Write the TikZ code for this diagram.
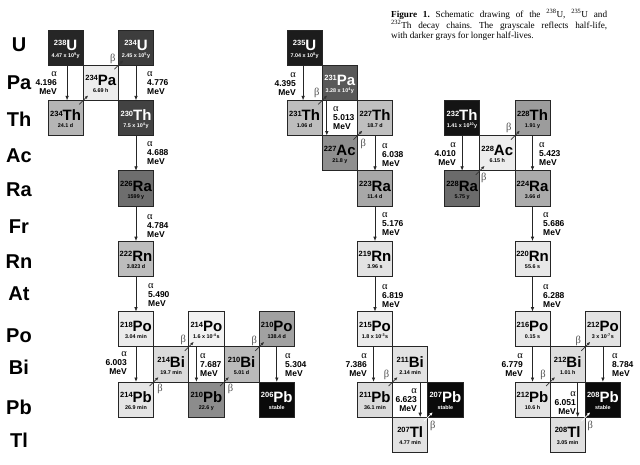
\documentclass[tikz,border=0pt]{standalone}
\usepackage{fontspec}
\setmainfont{Liberation Serif}
\setsansfont{Liberation Sans}
\usetikzlibrary{arrows.meta}
\newcommand\isob[8]{%
  \node[isobox, fill=#4] (#1) at ({#2+17.6},{30+#3*35.2+17.6}) {};
  \node[symtxt, text=#5] (#1s) at ([yshift=-2.6pt]#1.center) {\raisebox{4.6pt}{\fontsize{7.5}{7.5}\selectfont #6}#7};
  \node[hltxt, text=#5] (#1h) at ([yshift=-9.6pt]#1.center) {#8};
}
\newcommand\alp{{\rmfamily\mdseries\fontsize{10.5}{9}\selectfont α}}
\newcommand\sps[1]{\textsuperscript{#1}}
\begin{document}
\begin{tikzpicture}[x=1pt,y=-1pt,
  isobox/.style={draw=black!85, line width=0.7pt, minimum width=35.2pt, minimum height=35.2pt, inner sep=0pt, outer sep=0pt},
  symtxt/.style={font=\sffamily\bfseries\fontsize{15}{15}\selectfont, inner sep=0pt, anchor=base},
  hltxt/.style={font=\sffamily\bfseries\fontsize{5.4}{5.4}\selectfont, inner sep=0pt, anchor=base},
  rowlab/.style={font=\sffamily\bfseries\fontsize{20}{20}\selectfont, inner sep=0pt},
  aarr/.style={draw=black!85, line width=0.8pt, -{Latex[length=4.5pt,width=3.6pt]}},
  barr/.style={draw=black!80, line width=0.7pt, -{Latex[length=3.5pt,width=3pt]}},
  warr/.style={barr, draw=white, fill=white},
  elab/.style={font=\sffamily\bfseries\fontsize{8.5}{9}\selectfont, inner sep=0pt},
  elabL/.style={elab, anchor=east, align=right},
  elabR/.style={elab, anchor=west, align=left},
  betal/.style={font=\rmfamily\fontsize{10.5}{10}\selectfont, text=black!70, inner sep=0pt},
]
\useasboundingbox[fill=white] (0,0) rectangle (640,464);

% row labels
\foreach \t/\y [count=\i] in {U/45,Pa/83,Th/119,Ac/156,Ra/190,Fr/227,Rn/262,At/294,Po/336,Bi/367,Pb/407,Tl/440}
  \node[rowlab] (row\i) at (19,\y) {\t};

% caption
\node[anchor=north west, inner sep=0pt, text width=216pt, align=justify,
      font=\rmfamily\fontsize{9.2}{10.7}\selectfont\frenchspacing] (cap) at (391,9)
  {\textbf{Figure 1.} Schematic drawing of the \sps{238}U, \sps{235}U and\linebreak
   \sps{232}Th decay chains. The grayscale reflects half-life,\linebreak
   with darker grays for longer half-lives.};

% ---- 238U chain
\isob{U238}{48+0*35.2}{0}{black!85}{white}{238}{U}{4.47 x 10\sps{9}y}
\isob{Pa234}{48+1*35.2}{1}{black!7}{black}{234}{Pa}{6.69 h}
\isob{Th234}{48+0*35.2}{2}{black!29}{black}{234}{Th}{24.1 d}
\isob{U234}{48+2*35.2}{0}{black!76}{white}{234}{U}{2.45 x 10\sps{5}y}
\isob{Th230}{48+2*35.2}{2}{black!74}{white}{230}{Th}{7.5 x 10\sps{4}y}
\isob{Ra226}{48+2*35.2}{4}{black!57}{black}{226}{Ra}{1599 y}
\isob{Rn222}{48+2*35.2}{6}{black!26}{black}{222}{Rn}{3.823 d}
\isob{Po218}{48+2*35.2}{8}{black!8}{black}{218}{Po}{3.04 min}
\isob{Pb214}{48+2*35.2}{10}{black!10}{black}{214}{Pb}{26.9 min}
\isob{Bi214}{48+3*35.2}{9}{black!14}{black}{214}{Bi}{19.7 min}
\isob{Po214}{48+4*35.2}{8}{black!5}{black}{214}{Po}{1.6 x 10\sps{-4}s}
\isob{Pb210}{48+4*35.2}{10}{black!45}{black}{210}{Pb}{22.6 y}
\isob{Bi210}{48+5*35.2}{9}{black!27}{black}{210}{Bi}{5.01 d}
\isob{Po210}{48+6*35.2}{8}{black!37}{black}{210}{Po}{138.4 d}
\isob{Pb206}{48+6*35.2}{10}{black!96}{white}{206}{Pb}{stable}

\draw[aarr] ([xshift=1.5pt]U238.south) -- ([xshift=1.5pt]Th234.north);
\draw[aarr] (U234.south) -- (Th230.north);
\draw[aarr] (Th230.south) -- (Ra226.north);
\draw[aarr] (Ra226.south) -- (Rn222.north);
\draw[aarr] (Rn222.south) -- (Po218.north);
\draw[aarr] (Po218.south) -- (Pb214.north);
\draw[aarr] ([xshift=-10pt]Po214.south) -- ([xshift=-10pt]Pb210.north);
\draw[aarr] (Po210.south) -- (Pb206.north);

\draw[barr] ([shift={(-4pt,-4pt)}]Th234.north east) -- ([shift={(5pt,5pt)}]Pa234.south west);
\draw[barr] ([shift={(-4pt,-4pt)}]Pa234.north east) -- ([shift={(5pt,5pt)}]U234.south west);
\draw[barr] ([shift={(-4pt,-4pt)}]Pb214.north east) -- ([shift={(5pt,5pt)}]Bi214.south west);
\draw[barr] ([shift={(-4pt,-4pt)}]Bi214.north east) -- ([shift={(5pt,5pt)}]Po214.south west);
\draw[barr] ([shift={(-4pt,-4pt)}]Pb210.north east) -- ([shift={(5pt,5pt)}]Bi210.south west);
\draw[barr] ([shift={(-4pt,-4pt)}]Bi210.north east) -- ([shift={(5pt,5pt)}]Po210.south west);

\node[betal] (bU234) at ([shift={(-5.5pt,6.5pt)}]U234.south west) {β};
\node[betal] (bBi214) at ([shift={(6.5pt,-6.5pt)}]Bi214.south west) {β};
\node[betal] (bPo214) at ([shift={(-5.5pt,6.5pt)}]Po214.south west) {β};
\node[betal] (bBi210) at ([shift={(6.5pt,-6.5pt)}]Bi210.south west) {β};
\node[betal] (bPo210) at ([shift={(-5pt,6pt)}]Po210.south west) {β};

\node[elabL] (e1) at (57,83) {\alp\\4.196\\MeV};
\node[elabR] (e2) at (147,83) {\alp\\4.776\\MeV};
\node[elabR] (e3) at (147,153) {\alp\\4.688\\MeV};
\node[elabR] (e4) at (147,226) {\alp\\4.784\\MeV};
\node[elabR] (e5) at (148,295) {\alp\\5.490\\MeV};
\node[elabL] (e6) at (127,363) {\alp\\6.003\\MeV};
\node[elabR] (e7) at (200,365) {\alp\\7.687\\MeV};
\node[elabR] (e8) at (285,365) {\alp\\5.304\\MeV};

% ---- 235U chain
\isob{U235}{287+0*35.2}{0}{black!89}{white}{235}{U}{7.04 x 10\sps{8}y}
\isob{Pa231}{287+1*35.2}{1}{black!65}{white}{231}{Pa}{3.28 x 10\sps{4}y}
\isob{Th231}{287+0*35.2}{2}{black!26}{black}{231}{Th}{1.06 d}
\isob{Th227}{287+2*35.2}{2}{black!25}{black}{227}{Th}{18.7 d}
\isob{Ac227}{287+1*35.2}{3}{black!44}{black}{227}{Ac}{21.8 y}
\isob{Ra223}{287+2*35.2}{4}{black!34}{black}{223}{Ra}{11.4 d}
\isob{Rn219}{287+2*35.2}{6}{black!11}{black}{219}{Rn}{3.96 s}
\isob{Po215}{287+2*35.2}{8}{black!8}{black}{215}{Po}{1.8 x 10\sps{-3}s}
\isob{Bi211}{287+3*35.2}{9}{black!11}{black}{211}{Bi}{2.14 min}
\isob{Pb211}{287+2*35.2}{10}{black!14}{black}{211}{Pb}{36.1 min}
\isob{Pb207}{287+4*35.2}{10}{black!96}{white}{207}{Pb}{stable}
\isob{Tl207}{287+3*35.2}{11}{black!11}{black}{207}{Tl}{4.77 min}

\draw[aarr] ([xshift=-1.5pt]U235.south) -- ([xshift=-1.5pt]Th231.north);
\draw[aarr] ([xshift=-13pt]Pa231.south) -- ([xshift=-13pt]Ac227.north);
\draw[aarr] (Th227.south) -- (Ra223.north);
\draw[aarr] (Ra223.south) -- (Rn219.north);
\draw[aarr] (Rn219.south) -- (Po215.north);
\draw[aarr] ([xshift=-1.5pt]Po215.south) -- ([xshift=-1.5pt]Pb211.north);
\draw[aarr] ([xshift=10pt]Bi211.south) -- ([xshift=10pt]Tl207.north);

\draw[barr] ([shift={(-4pt,-4pt)}]Th231.north east) -- ([shift={(5pt,5pt)}]Pa231.south west);
\draw[barr] ([shift={(-4pt,-4pt)}]Ac227.north east) -- ([shift={(5pt,5pt)}]Th227.south west);
\draw[barr] ([shift={(-4pt,-4pt)}]Pb211.north east) -- ([shift={(5pt,5pt)}]Bi211.south west);
\draw[warr] ([shift={(-4pt,-4pt)}]Tl207.north east) -- ([shift={(5pt,5pt)}]Pb207.south west);

\node[betal] (bPa231) at ([shift={(-5.5pt,7pt)}]Pa231.south west) {β};
\node[betal] (bTh227) at ([shift={(6pt,-8pt)}]Th227.south west) {β};
\node[betal] (bBi211) at ([shift={(-6pt,7pt)}]Bi211.south west) {β};
\node[betal] (bPb207) at ([shift={(5pt,-9pt)}]Pb207.south west) {β};

\node[elabL] (e9) at (296,84) {\alp\\4.395\\MeV};
\node[elabR] (e10) at (333,118) {\alp\\5.013\\MeV};
\node[elabR] (e11) at (382,155) {\alp\\6.038\\MeV};
\node[elabR] (e12) at (382,224) {\alp\\5.176\\MeV};
\node[elabR] (e13) at (382,296) {\alp\\6.819\\MeV};
\node[elabL] (e14) at (367,365) {\alp\\7.386\\MeV};
\node[elabL] (e15) at (417,400) {\alp\\6.623\\MeV};

% ---- 232Th chain
\isob{Th232}{444.5+0*35.2}{2}{black!92}{white}{232}{Th}{1.41 x 10\sps{10}y}
\isob{Ac228}{444.5+1*35.2}{3}{black!7}{black}{228}{Ac}{6.15 h}
\isob{Th228}{444.5+2*35.2}{2}{black!39}{black}{228}{Th}{1.91 y}
\isob{Ra228}{444.5+0*35.2}{4}{black!58}{black}{228}{Ra}{5.75 y}
\isob{Ra224}{444.5+2*35.2}{4}{black!33}{black}{224}{Ra}{3.66 d}
\isob{Rn220}{444.5+2*35.2}{6}{black!9}{black}{220}{Rn}{55.6 s}
\isob{Po216}{444.5+2*35.2}{8}{black!9}{black}{216}{Po}{0.15 s}
\isob{Bi212}{444.5+3*35.2}{9}{black!13}{black}{212}{Bi}{1.01 h}
\isob{Po212}{444.5+4*35.2}{8}{black!11}{black}{212}{Po}{3 x 10\sps{-7}s}
\isob{Pb212}{444.5+2*35.2}{10}{black!11}{black}{212}{Pb}{10.6 h}
\isob{Pb208}{444.5+4*35.2}{10}{black!96}{white}{208}{Pb}{stable}
\isob{Tl208}{444.5+3*35.2}{11}{black!12}{black}{208}{Tl}{3.05 min}

\draw[aarr] (Th232.south) -- (Ra228.north);
\draw[aarr] (Th228.south) -- (Ra224.north);
\draw[aarr] (Ra224.south) -- (Rn220.north);
\draw[aarr] (Rn220.south) -- (Po216.north);
\draw[aarr] (Po216.south) -- (Pb212.north);
\draw[aarr] (Po212.south) -- (Pb208.north);
\draw[aarr] ([xshift=10pt]Bi212.south) -- ([xshift=10pt]Tl208.north);

\draw[barr] ([shift={(-4pt,-4pt)}]Ra228.north east) -- ([shift={(5pt,5pt)}]Ac228.south west);
\draw[barr] ([shift={(-4pt,-4pt)}]Ac228.north east) -- ([shift={(5pt,5pt)}]Th228.south west);
\draw[barr] ([shift={(-4pt,-4pt)}]Pb212.north east) -- ([shift={(5pt,5pt)}]Bi212.south west);
\draw[barr] ([shift={(-4pt,-4pt)}]Bi212.north east) -- ([shift={(5pt,5pt)}]Po212.south west);
\draw[warr] ([shift={(-4pt,-4pt)}]Tl208.north east) -- ([shift={(5pt,5pt)}]Pb208.south west);

\node[betal] (bAc228) at ([shift={(4pt,-7.5pt)}]Ac228.south west) {β};
\node[betal] (bTh228) at ([shift={(-6pt,8pt)}]Th228.south west) {β};
\node[betal] (bBi212) at ([shift={(-7pt,7pt)}]Bi212.south west) {β};
\node[betal] (bPo212) at ([shift={(-7pt,6pt)}]Po212.south west) {β};
\node[betal] (bPb208) at ([shift={(5pt,-8.5pt)}]Pb208.south west) {β};

\node[elabL] (e16) at (456,154) {\alp\\4.010\\MeV};
\node[elabR] (e17) at (539,154) {\alp\\5.423\\MeV};
\node[elabR] (e18) at (543,224) {\alp\\5.686\\MeV};
\node[elabR] (e19) at (543,296) {\alp\\6.288\\MeV};
\node[elabL] (e20) at (523,365) {\alp\\6.779\\MeV};
\node[elabR] (e21) at (612,365) {\alp\\8.784\\MeV};
\node[elabL] (e22) at (576,403) {\alp\\6.051\\MeV};
\end{tikzpicture}
\end{document}
